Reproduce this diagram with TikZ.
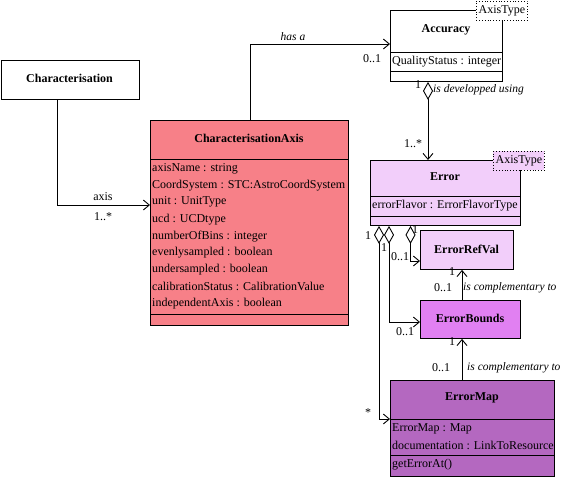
\documentclass[tikz,border=0pt]{standalone}
\usepackage{fontspec}
\setmainfont{Liberation Serif}
\usetikzlibrary{arrows.meta}
\definecolor{caxisfill}{RGB}{247,128,136}
\definecolor{errfill}{RGB}{242,206,250}
\definecolor{boundsfill}{RGB}{225,128,242}
\definecolor{mapfill}{RGB}{180,104,192}
\begin{document}
\begin{tikzpicture}[x=1pt,y=-1pt,
  font=\fontsize{12}{14}\selectfont,
  umlbox/.style={draw, line width=0.9pt, inner sep=0pt, anchor=north west},
  typebox/.style={draw, dotted, line width=0.8pt, fill=white, inner sep=0pt, anchor=north west, minimum width=51pt, minimum height=19pt},
  title/.style={font=\fontsize{12}{14}\selectfont\bfseries, inner sep=0pt},
  attr/.style={anchor=west, inner sep=0pt},
  lbl/.style={inner sep=0pt},
  ilbl/.style={inner sep=0pt, font=\fontsize{11.5}{13}\selectfont\itshape},
  sep/.style={line width=0.9pt},
  assoc/.style={line width=0.9pt, -{Straight Barb[length=6pt,width=10pt]}},
  agg/.style={line width=0.9pt, {Diamond[open,length=18pt,width=10pt]}-{Straight Barb[length=6pt,width=10pt]}}
]
\useasboundingbox (0,0) rectangle (565,477);

% Characterisation
\node[umlbox, minimum width=138.5pt, minimum height=39pt] (char) at (0.5,60) {};
\node[title] (chart) at (69.5,78) {Characterisation};

% CharacterisationAxis
\node[umlbox, fill=caxisfill, minimum width=198pt, minimum height=205pt] (caxis) at (150,120) {};
\node[title] (caxist) at (249,138) {CharacterisationAxis};
\draw[sep] (caxis.west |- 0,159) -- (caxis.east |- 0,159);
\draw[sep] (caxis.west |- 0,314) -- (caxis.east |- 0,314);
\node[attr] (a1) at (152,168.5) {axisName : string};
\node[attr] (a2) at (152,185.4) {CoordSystem : STC:AstroCoordSystem};
\node[attr] (a3) at (152,202.3) {unit : UnitType};
\node[attr] (a4) at (152,219.2) {ucd : UCDtype};
\node[attr] (a5) at (152,236.1) {numberOfBins : integer};
\node[attr] (a6) at (152,253) {evenlysampled : boolean};
\node[attr] (a7) at (152,269.9) {undersampled : boolean};
\node[attr] (a8) at (152,286.8) {calibrationStatus : CalibrationValue};
\node[attr] (a9) at (152,303.7) {independentAxis : boolean};

% Accuracy
\node[umlbox, fill=white, minimum width=112pt, minimum height=71pt] (acc) at (390,10) {};
\node[title] (acct) at (446,30) {Accuracy};
\draw[sep] (acc.west |- 0,52) -- (acc.east |- 0,52);
\draw[sep] (acc.west |- 0,71) -- (acc.east |- 0,71);
\node[attr] (acca) at (392,61.5) {QualityStatus : integer};
\node[typebox] (acctype) at (476,0.5) {};
\node[lbl] at (acctype.center) {AxisType};

% Error
\node[umlbox, fill=errfill, minimum width=150pt, minimum height=65pt] (err) at (370,160) {};
\node[title] (errt) at (445,177) {Error};
\draw[sep] (err.west |- 0,196) -- (err.east |- 0,196);
\draw[sep] (err.west |- 0,216) -- (err.east |- 0,216);
\node[attr] (erra) at (372,205.5) {errorFlavor : ErrorFlavorType};
\node[typebox, fill=errfill] (errtype) at (493,151) {};
\node[lbl] at (errtype.center) {AxisType};

% ErrorRefVal
\node[umlbox, fill=errfill, minimum width=93pt, minimum height=39pt] (eref) at (420,230) {};
\node[title] (ereft) at (466.5,249) {ErrorRefVal};

% ErrorBounds
\node[umlbox, fill=boundsfill, minimum width=100pt, minimum height=38pt] (ebd) at (420,300) {};
\node[title] (ebdt) at (470,318) {ErrorBounds};

% ErrorMap
\node[umlbox, fill=mapfill, minimum width=164pt, minimum height=96pt] (emap) at (390,380) {};
\node[title] (emapt) at (472,398) {ErrorMap};
\draw[sep] (emap.west |- 0,419) -- (emap.east |- 0,419);
\draw[sep] (emap.west |- 0,455) -- (emap.east |- 0,455);
\node[attr] (em1) at (392,428.5) {ErrorMap : Map};
\node[attr] (em2) at (392,445.5) {documentation : LinkToResource};
\node[attr] (em3) at (392,465) {getErrorAt()};

% Connectors
\draw[assoc] (char.south -| 57.5,0) |- (caxis.west |- 0,205);
\node[lbl] at (103,197) {axis};
\node[lbl] at (103,217) {1..*};

\draw[assoc] (caxis.north -| 250,0) |- (acc.west |- 0,44);
\node[ilbl] at (293,37) {has a};
\node[lbl] at (372,59) {0..1};

\draw[agg] (acc.south -| 428,0) -- (err.north -| 428,0);
\node[lbl] at (418,85) {1};
\node[ilbl, anchor=west] at (433,90) {is developped using};
\node[lbl] at (413,144) {1..*};

\draw[agg] (err.south -| 379,0) |- (emap.west |- 0,419);
\node[lbl] at (368,236) {1};
\node[lbl] at (368,413) {*};

\draw[agg] (err.south -| 389,0) |- (ebd.west |- 0,322);
\node[lbl] at (384,248) {1};
\node[lbl] at (405,332) {0..1};

\draw[agg] (err.south -| 410.5,0) |- (eref.west |- 0,261);
\node[lbl] at (415,230) {1};
\node[lbl] at (400,257) {0..1};

\draw[assoc] (ebd.north -| 462,0) -- (eref.south -| 462,0);
\node[lbl] at (452,272) {1};
\node[lbl] at (443,288) {0..1};
\node[ilbl, anchor=west] at (463,288) {is complementary to};

\draw[assoc] (emap.north -| 462,0) -- (ebd.south -| 462,0);
\node[lbl] at (452,342) {1};
\node[lbl] at (441,368) {0..1};
\node[ilbl, anchor=west] at (467,368) {is complementary to};
\end{tikzpicture}
\end{document}
